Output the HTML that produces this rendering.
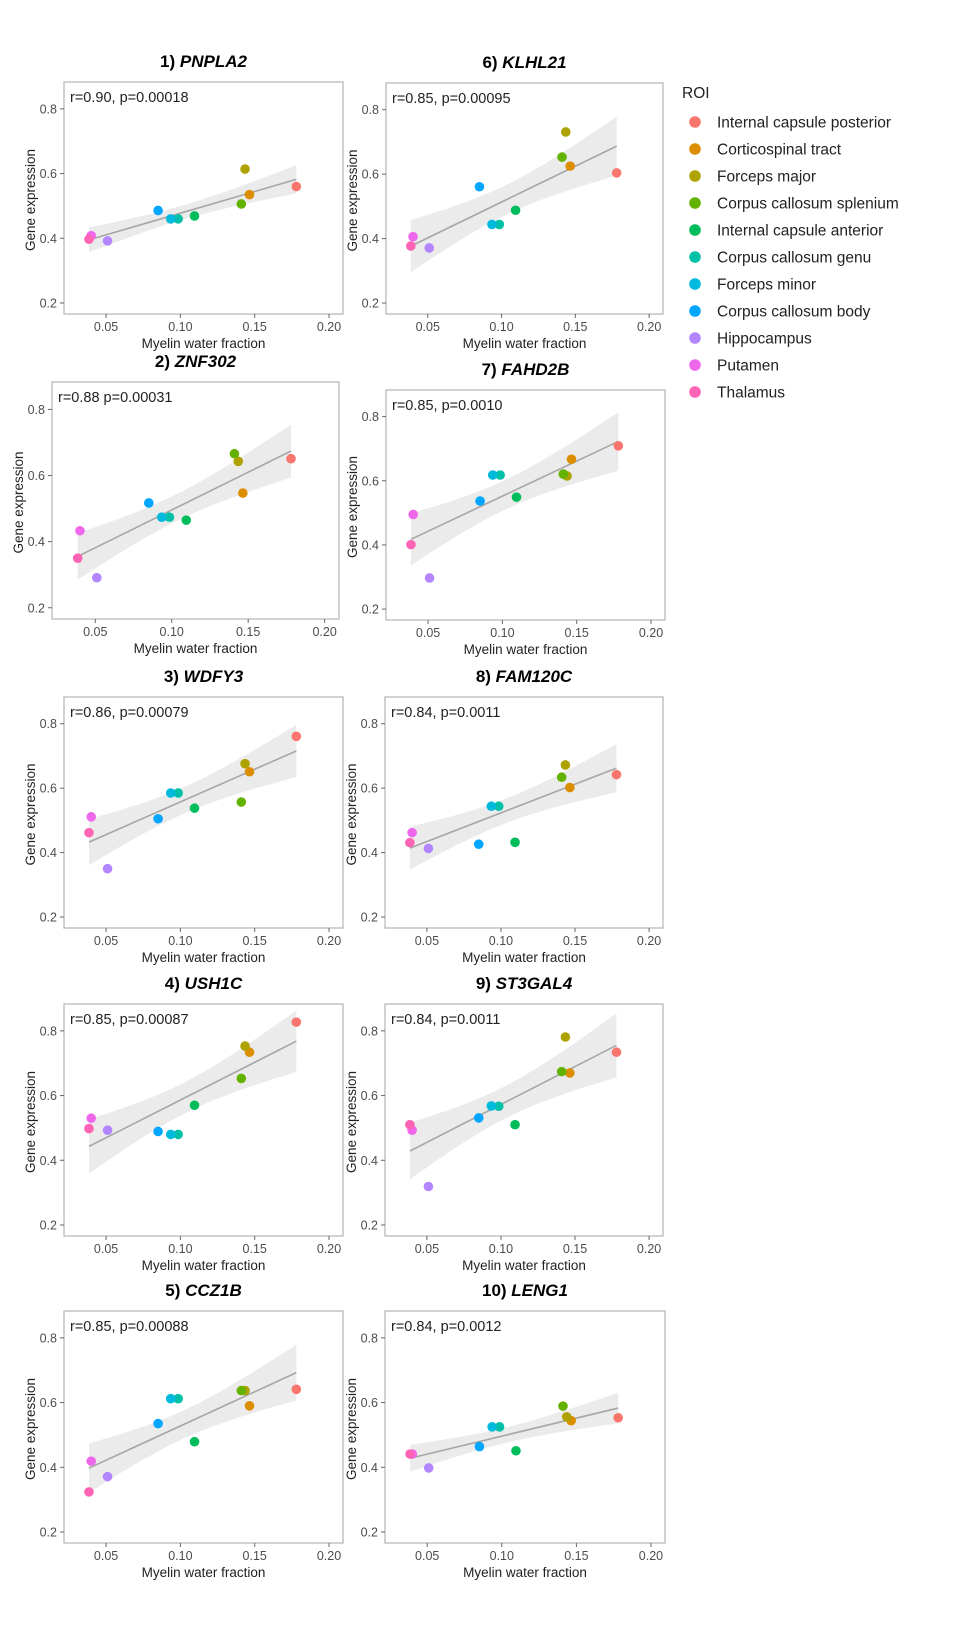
<!DOCTYPE html>
<html><head><meta charset="utf-8">
<style>
html,body{margin:0;padding:0;background:#fff;}
svg{display:block;font-family:"Liberation Sans",Arial,sans-serif;}
</style></head>
<body>
<svg id="chart" width="960" height="1631" viewBox="0 0 960 1631"></svg>
<script>
const regions = ["Internal capsule posterior","Corticospinal tract","Forceps major","Corpus callosum splenium","Internal capsule anterior","Corpus callosum genu","Forceps minor","Corpus callosum body","Hippocampus","Putamen","Thalamus"];
const regionColors = ["#F8766D","#DB8E00","#AEA200","#64B200","#00BD5C","#00C1A7","#00BADE","#00A6FF","#B385FF","#EF67EB","#FF63B6"];
const mwf = [0.178,0.1465,0.1435,0.141,0.1095,0.0985,0.0935,0.085,0.051,0.040,0.0385];
const genes = ["PNPLA2","ZNF302","WDFY3","USH1C","CCZ1B","KLHL21","FAHD2B","FAM120C","ST3GAL4","LENG1"];
const statLabels = ["r=0.90, p=0.00018","r=0.88 p=0.00031","r=0.86, p=0.00079","r=0.85, p=0.00087","r=0.85, p=0.00088","r=0.85, p=0.00095","r=0.85, p=0.0010","r=0.84, p=0.0011","r=0.84, p=0.0011","r=0.84, p=0.0012"];
const expr1 = [0.560,0.535,0.614,0.506,0.469,0.460,0.460,0.486,0.392,0.408,0.397];
const expr2 = [0.651,0.547,0.643,0.666,0.465,0.474,0.474,0.517,0.291,0.433,0.350];
const expr3 = [0.761,0.651,0.676,0.557,0.538,0.585,0.585,0.505,0.350,0.511,0.462];
const expr4 = [0.827,0.734,0.753,0.653,0.570,0.480,0.480,0.489,0.493,0.530,0.498];
const expr5 = [0.641,0.590,0.637,0.637,0.479,0.612,0.612,0.535,0.371,0.419,0.324];
const expr6 = [0.604,0.625,0.731,0.653,0.488,0.444,0.444,0.561,0.371,0.406,0.377];
const expr7 = [0.709,0.667,0.615,0.621,0.549,0.618,0.618,0.537,0.297,0.495,0.401];
const expr8 = [0.642,0.602,0.672,0.634,0.432,0.544,0.544,0.426,0.413,0.462,0.431];
const expr9 = [0.734,0.670,0.781,0.674,0.510,0.567,0.568,0.531,0.319,0.493,0.510];
const expr10 = [0.553,0.544,0.556,0.589,0.451,0.525,0.525,0.464,0.398,0.441,0.441];
const exprAll = [expr1,expr2,expr3,expr4,expr5,expr6,expr7,expr8,expr9,expr10];
const xTicks = [0.05,0.10,0.15,0.20];
const xTickLabels = ["0.05","0.10","0.15","0.20"];
const yTicks = [0.2,0.4,0.6,0.8];
const yTickLabels = ["0.2","0.4","0.6","0.8"];
const X_DOMAIN = [0.0217,0.2094];
const Y_DOMAIN = [0.166,0.883];

// layout boxes [left, top, right, bottom]
const boxes = [
 [64,82,343,314],[52,382,339,619],[64,697,343,928],[64,1004,343,1236],[64,1311,343,1543],
 [386,83,663,314],[386,390,665,620],[385,697,663,928],[385,1004,663,1236],[385,1311,665,1543]
];
const NS="http://www.w3.org/2000/svg";
const svg=document.getElementById('chart');
function mk(tag,attrs,parent){const e=document.createElementNS(NS,tag);for(const k in attrs)e.setAttribute(k,attrs[k]);(parent||svg).appendChild(e);return e;}

function drawPanel(i){
  const [L,T,R,B]=boxes[i];
  const y=exprAll[i];
  const g=mk('g',{});
  
  
  const sx=v=>L+(v-X_DOMAIN[0])/(X_DOMAIN[1]-X_DOMAIN[0])*(R-L);
  const sy=v=>B-(v-Y_DOMAIN[0])/(Y_DOMAIN[1]-Y_DOMAIN[0])*(B-T);
  // title
  const t=mk('text',{x:(L+R)/2,y:T-15,'text-anchor':'middle','font-size':17,'font-weight':'bold',fill:'#000'},g);
  
  
  const t1=mk('tspan',{},t);t1.textContent=(i+1)+') ';
  const t2=mk('tspan',{'font-style':'italic'},t);t2.textContent=genes[i];
  // box
  const bx=mk('rect',{x:L,y:T,width:R-L,height:B-T,fill:'#fff',stroke:'#b3b3b3','stroke-width':1.2},g);
  
  
  // regression
  const n=mwf.length;
  const mx=mwf.reduce((a,b)=>a+b)/n, my=y.reduce((a,b)=>a+b)/n;
  let sxx=0,sxy=0;for(let k=0;k<n;k++){sxx+=(mwf[k]-mx)**2;sxy+=(mwf[k]-mx)*(y[k]-my);}
  const b1=sxy/sxx,b0=my-b1*mx;
  let sse=0;for(let k=0;k<n;k++)sse+=(y[k]-b0-b1*mwf[k])**2;
  const s=Math.sqrt(sse/(n-2)), tq=2.262;
  const xmin=Math.min(...mwf),xmax=Math.max(...mwf);
  const up=[],lo=[];
  for(let k=0;k<=40;k++){const xv=xmin+(xmax-xmin)*k/40;const f=b0+b1*xv;const se=s*Math.sqrt(1/n+(xv-mx)**2/sxx);
    up.push(sx(xv).toFixed(1)+','+sy(f+tq*se).toFixed(1));lo.unshift(sx(xv).toFixed(1)+','+sy(f-tq*se).toFixed(1));}
  const band=mk('polygon',{points:up.concat(lo).join(' '),fill:'#ebebeb'},g);
  
  
  const ln=mk('line',{x1:sx(xmin),y1:sy(b0+b1*xmin),x2:sx(xmax),y2:sy(b0+b1*xmax),stroke:'#a6a6a6','stroke-width':1.6},g);
  
  
  // points
  for(let k=0;k<n;k++){
    const c=mk('circle',{cx:sx(mwf[k]),cy:sy(y[k]),r:4.8,fill:regionColors[k]},g);
    
    
  }
  // annotation
  const an=mk('text',{x:L+6,y:T+20,'font-size':14.5,fill:'#222'},g);
  
  
  an.textContent=statLabels[i];
  // y ticks
  yTicks.forEach((v,j)=>{
    const tk=mk('line',{x1:L-4,x2:L,y1:sy(v),y2:sy(v),stroke:'#666','stroke-width':1},g);
    
    
    const tl=mk('text',{x:L-7,y:sy(v)+4.5,'text-anchor':'end','font-size':12.5,fill:'#4d4d4d'},g);
    
    
    tl.textContent=yTickLabels[j];
  });
  xTicks.forEach((v,j)=>{
    const tk=mk('line',{x1:sx(v),x2:sx(v),y1:B,y2:B+4,stroke:'#666','stroke-width':1},g);
    
    
    const tl=mk('text',{x:sx(v),y:B+17,'text-anchor':'middle','font-size':12.5,fill:'#4d4d4d'},g);
    
    
    tl.textContent=xTickLabels[j];
  });
  const xt=mk('text',{x:(L+R)/2,y:B+34,'text-anchor':'middle','font-size':13.5,fill:'#222'},g);
  
  
  xt.textContent='Myelin water fraction';
  const cy=(T+B)/2+2, cx=L-29;
  const yt=mk('text',{x:cx,y:cy,'text-anchor':'middle','font-size':13.5,fill:'#222',transform:'rotate(-90 '+cx+' '+cy+')'},g);
  
  
  yt.textContent='Gene expression';
}
for(let i=0;i<10;i++)drawPanel(i);

// legend
const lg=mk('g',{});


const lt=mk('text',{x:682,y:98,'font-size':15.5,fill:'#222'},lg);


lt.textContent='ROI';
regions.forEach((r,k)=>{
  const yy=122+27*k;
  const e=mk('g',{},lg);
  
  
  mk('circle',{cx:695,cy:yy,r:5.8,fill:regionColors[k]},e);
  const tx=mk('text',{x:717,y:yy+5.5,'font-size':15.5,fill:'#222'},e);
  tx.textContent=r;
});
</script>
</body></html>
